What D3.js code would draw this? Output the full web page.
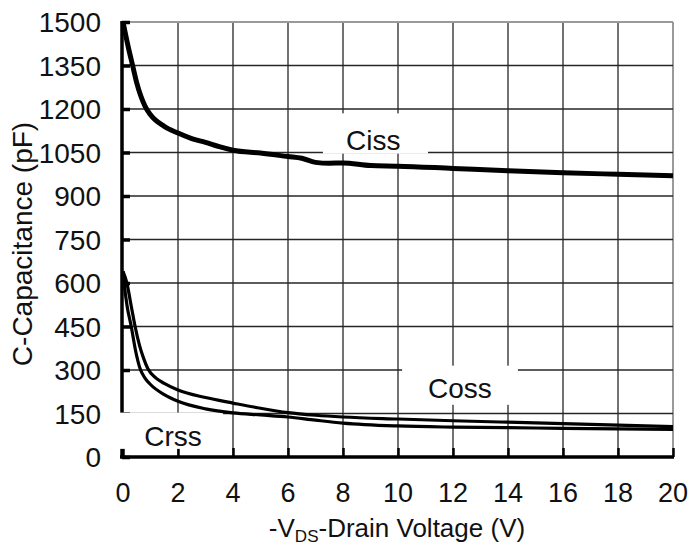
<!DOCTYPE html>
<html>
<head>
<meta charset="utf-8">
<script src="https://cdn.jsdelivr.net/npm/d3@7"></script>
<style>
  html, body { margin: 0; padding: 0; background: #fff; }
  svg { display: block; font-family: "Liberation Sans", Arial, sans-serif; }
</style>
</head>
<body>
<svg id="chart" width="690" height="547"></svg>
<script>
// capacitance vs drain voltage
const vTicks = [0, 2, 4, 6, 8, 10, 12, 14, 16, 18, 20];
const cTicks = [0, 150, 300, 450, 600, 750, 900, 1050, 1200, 1350, 1500];

const cissV = [0, 0.2, 0.35, 0.5, 0.8, 1, 1.5, 2, 2.5, 3, 3.5, 4, 5, 6, 6.5, 7, 7.5, 8, 9, 10, 12, 14, 16, 18, 20];
const cissC = [1500, 1410, 1350, 1290, 1210, 1180, 1140, 1117, 1098, 1085, 1070, 1058, 1048, 1036, 1030, 1016, 1013, 1014, 1005, 1003, 995, 987, 980, 975, 970];

const cossV = [0, 0.14, 0.3, 0.44, 0.6, 0.75, 0.9, 1.2, 1.5, 2, 3, 4, 5, 6, 7, 8, 10, 12, 14, 16, 18, 20];
const cossC = [640, 600, 520, 450, 385, 340, 305, 272, 254, 231, 205, 186, 168, 153, 144, 138, 131, 125, 120, 115, 110, 105];

const crssV = [0, 0.04, 0.15, 0.3, 0.45, 0.62, 0.8, 1, 1.5, 2, 3, 4, 5, 6, 7, 8, 10, 12, 14, 16, 18, 20];
const crssC = [640, 600, 520, 450, 370, 305, 272, 250, 215, 192, 166, 152, 145, 138, 127, 117, 107, 103, 101, 99, 97, 95];

const labels = [
  { text: 'Ciss', v: 9.1, c: 1060, box: [7.27, 11.09, 1046, 1185] },
  { text: 'Coss', v: 12.25, c: 203, box: [10.15, 14.36, 180, 315] },
  { text: 'Crss', v: 1.82, c: 38, box: [-0.15, 3.64, 28, 153] }
];

const svg = d3.select('#chart');
const x = d3.scaleLinear().domain([0, 20]).range([123, 673]);
const y = d3.scaleLinear().domain([0, 1500]).range([457, 22]);

// grid
const grid = svg.append('g');
grid.selectAll('.gx').data(vTicks.slice(1)).enter().append('line')
  .attr('x1', d => x(d)).attr('x2', d => x(d))
  .attr('y1', y(0)).attr('y2', y(1500))
  .attr('stroke', d => d === 20 ? '#9a9a9a' : '#262626')
  .attr('stroke-width', d => d === 20 ? 2 : 1.3);
grid.selectAll('.gy').data(cTicks.slice(1)).enter().append('line')
  .attr('x1', x(0)).attr('x2', x(20))
  .attr('y1', d => y(d)).attr('y2', d => y(d))
  .attr('stroke', d => d === 1500 ? '#9a9a9a' : '#262626')
  .attr('stroke-width', d => d === 1500 ? 2 : 1.3);

// axes: thick lines with inward ticks
const xAxis = d3.axisBottom(x).tickValues(vTicks).tickSize(-9).tickFormat('');
svg.append('g').attr('transform', `translate(0,${y(0)})`).call(xAxis)
  .call(g => g.select('.domain').attr('d', `M${x(0) - 3},0H${x(20) + 1}`).attr('stroke', '#000').attr('stroke-width', 3.5))
  .call(g => g.selectAll('.tick line').attr('stroke', '#000').attr('stroke-width', 2.5));

const yAxis = d3.axisLeft(y).tickValues(cTicks).tickSize(-8).tickFormat('');
svg.append('g').attr('transform', `translate(${x(0) - 1},0)`).call(yAxis)
  .call(g => g.select('.domain').attr('d', `M0,${y(1500) - 1}V${y(0)}`).attr('stroke', '#000').attr('stroke-width', 3.5))
  .call(g => g.selectAll('.tick line').attr('stroke', '#000').attr('stroke-width', 3.5));

// label boxes hide grid behind the series names
svg.append('g').selectAll('rect').data(labels).enter().append('rect')
  .attr('x', d => x(d.box[0])).attr('width', d => x(d.box[1]) - x(d.box[0]))
  .attr('y', d => y(d.box[3])).attr('height', d => y(d.box[2]) - y(d.box[3]))
  .attr('fill', '#fff');

// curves
const line = d3.line().x(d => x(d[0])).y(d => y(d[1])).curve(d3.curveMonotoneX);
const series = [
  { v: cissV, c: cissC, w: 5 },
  { v: cossV, c: cossC, w: 3.2 },
  { v: crssV, c: crssC, w: 3.2 }
];
svg.append('g').selectAll('path').data(series).enter().append('path')
  .attr('d', s => line(s.v.map((v, i) => [v, s.c[i]])))
  .attr('fill', 'none').attr('stroke', '#000')
  .attr('stroke-width', s => s.w).attr('stroke-linejoin', 'round');

svg.append('g').selectAll('text').data(labels).enter().append('text')
  .attr('x', d => x(d.v)).attr('y', d => y(d.c))
  .attr('text-anchor', 'middle').attr('font-size', 28).attr('fill', '#111')
  .text(d => d.text);

// tick labels
svg.append('g').selectAll('text').data(vTicks).enter().append('text')
  .attr('x', d => x(d)).attr('y', 502)
  .attr('text-anchor', 'middle').attr('font-size', 27).attr('fill', '#111')
  .text(d => d);
svg.append('g').selectAll('text').data(cTicks).enter().append('text')
  .attr('x', 101).attr('y', d => y(d)).attr('dy', '0.36em')
  .attr('text-anchor', 'end').attr('font-size', 28).attr('fill', '#111')
  .text(d => d);

// axis titles
const xt = svg.append('text').attr('x', 397).attr('y', 537)
  .attr('text-anchor', 'middle').attr('font-size', 26).attr('fill', '#111');
xt.append('tspan').text('-V');
xt.append('tspan').attr('font-size', 17).attr('dy', 5).text('DS');
xt.append('tspan').attr('dy', -5).text('-Drain Voltage (V)');

svg.append('text')
  .attr('transform', 'translate(32,244) rotate(-90)')
  .attr('text-anchor', 'middle').attr('font-size', 28).attr('fill', '#111')
  .text('C-Capacitance (pF)');
</script>
</body>
</html>
